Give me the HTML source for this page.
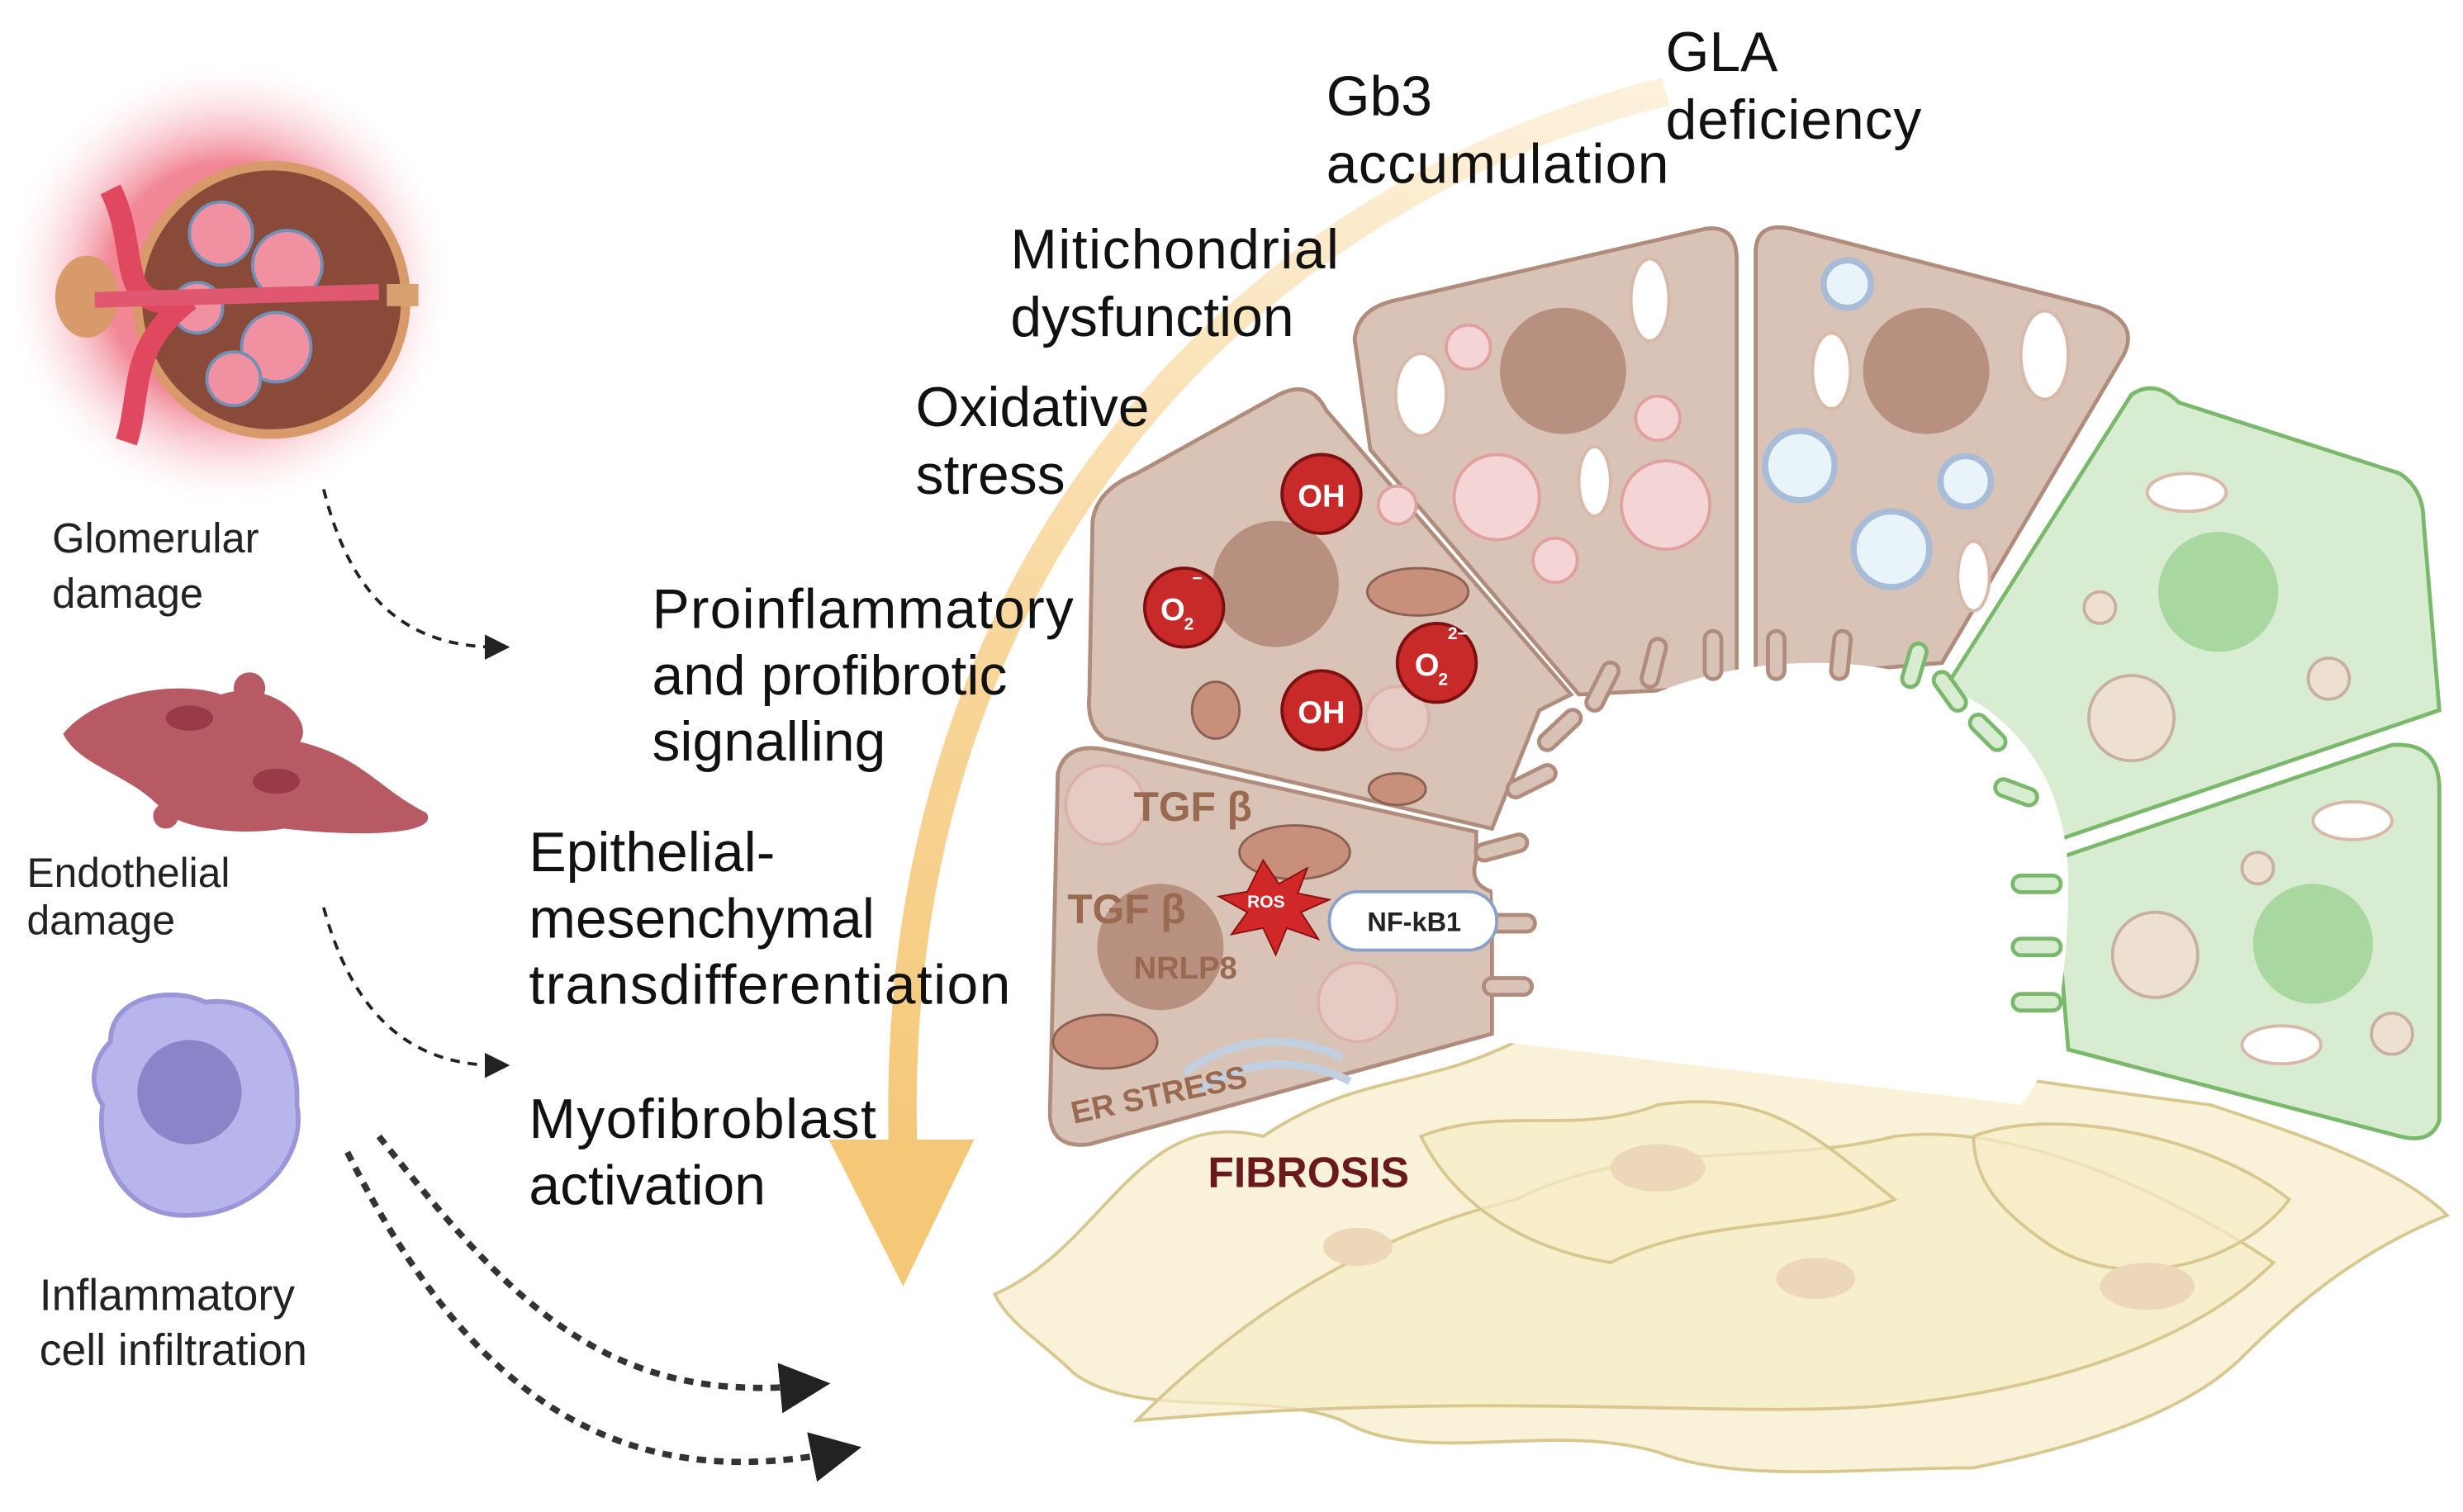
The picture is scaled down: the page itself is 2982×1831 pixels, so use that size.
<!DOCTYPE html>
<html><head><meta charset="utf-8"><style>
html,body{margin:0;padding:0;background:#fff;}
svg{display:block;}
text{font-family:"Liberation Sans",sans-serif;}
</style></head><body>
<svg width="2982" height="1831" viewBox="0 0 1560 958" preserveAspectRatio="none" xmlns="http://www.w3.org/2000/svg">
<defs>
<radialGradient id="glow" cx="50%" cy="50%" r="50%">
<stop offset="0.55" stop-color="#f07a8a" stop-opacity="0.9"/>
<stop offset="1" stop-color="#fde6ea" stop-opacity="0"/>
</radialGradient>
<linearGradient id="arr" x1="0" y1="0" x2="0" y2="1">
<stop offset="0" stop-color="#fdf1dc"/>
<stop offset="0.5" stop-color="#f8d79c"/>
<stop offset="1" stop-color="#f5c878"/>
</linearGradient>
<marker id="ah" markerWidth="8" markerHeight="8" refX="4" refY="4" orient="auto"><path d="M0,0 L8,4 L0,8 z" fill="#222"/></marker>
</defs>

<!-- glomerulus -->
<circle cx="145" cy="180" r="140" fill="url(#glow)"/>
<circle cx="172" cy="190" r="85" fill="#8a4a3a" stroke="#d89a6a" stroke-width="6"/>
<rect x="245" y="180" width="20" height="14" fill="#d8a070"/>
<ellipse cx="55" cy="188" rx="20" ry="26" fill="#d89a6a"/>
<g fill="#f090a0" stroke="#7090b8" stroke-width="2">
<circle cx="140" cy="148" r="20"/><circle cx="182" cy="168" r="22"/><circle cx="175" cy="220" r="22"/><circle cx="148" cy="240" r="17"/><circle cx="125" cy="195" r="16"/>
</g>
<path d="M70,120 C90,160 70,200 120,190 C80,220 90,250 80,280" stroke="#e04860" stroke-width="14" fill="none"/>
<path d="M60,190 L240,185" stroke="#e05870" stroke-width="10" fill="none"/>

<text x="33" y="350" font-size="26.5" fill="#222">Glomerular</text>
<text x="33" y="385" font-size="26.5" fill="#222">damage</text>

<!-- endothelial -->
<path d="M40,465 C60,440 110,430 140,440 C170,430 200,455 190,470 C230,480 240,500 270,515 C280,530 220,530 180,525 C150,530 110,525 100,510 C80,490 50,485 40,465z" fill="#b85a64"/>
<circle cx="158" cy="436" r="10" fill="#b85a64"/><circle cx="105" cy="517" r="8" fill="#b85a64"/>
<ellipse cx="120" cy="455" rx="15" ry="8" fill="#9a3a48"/><ellipse cx="175" cy="495" rx="15" ry="8" fill="#9a3a48"/>
<text x="17" y="562" font-size="26" fill="#222">Endothelial</text>
<text x="17" y="592" font-size="26" fill="#222">damage</text>

<!-- inflammatory cell -->
<path d="M70,660 C70,630 110,625 130,635 C170,630 190,665 188,700 C195,735 160,770 120,770 C80,772 60,735 65,700 C55,685 60,670 70,660z" fill="#b8b4ec" stroke="#9a96d8" stroke-width="3"/>
<circle cx="120" cy="692" r="33" fill="#8a84c8"/>
<text x="25" y="830" font-size="28" fill="#222">Inflammatory</text>
<text x="25" y="865" font-size="28" fill="#222">cell infiltration</text>

<!-- dashed arrows -->
<g fill="none" stroke="#222" stroke-width="2" stroke-dasharray="6,5">
<path d="M205,310 C220,370 250,410 315,410" marker-end="url(#ah)"/>
<path d="M205,575 C220,630 250,675 315,675" marker-end="url(#ah)"/>
<path d="M240,720 C320,820 380,890 510,878" stroke-width="4" stroke="#333" marker-end="url(#ah)"/>
<path d="M220,730 C290,870 380,950 530,920" stroke-width="4" stroke="#333" marker-end="url(#ah)"/>
</g>

<!-- big arrow -->
<path d="M1055,58 C800,120 560,350 572,730" stroke="url(#arr)" stroke-width="18" fill="none"/>
<path d="M525,722 L617,722 L572,815 z" fill="#f5c878"/>

<!-- fibroblasts -->
<g fill="#f6ecc8" fill-opacity="0.7" stroke="#d8c890" stroke-width="2">
<path d="M630,820 C700,790 720,700 800,720 C860,680 900,690 960,660 C1020,650 1100,680 1180,670 C1260,680 1320,690 1400,700 C1460,720 1520,740 1550,770 C1500,790 1460,820 1420,860 C1380,900 1300,920 1250,930 C1180,930 1100,940 1050,920 C980,900 900,930 850,900 C800,880 720,900 680,870 C660,850 640,840 630,820z"/>
<path d="M720,900 C800,820 880,780 960,760 C1040,720 1120,740 1200,720 C1280,710 1380,760 1440,800 C1390,850 1300,880 1200,890 C1100,900 950,880 720,900z"/>
<path d="M900,720 C950,700 1000,720 1050,700 C1120,690 1150,720 1200,760 C1150,780 1080,770 1020,800 C960,790 920,760 900,720z"/>
<path d="M1250,720 C1300,700 1400,720 1450,760 C1420,800 1350,820 1300,790 C1270,770 1250,750 1250,720z"/>
</g>
<g fill="#ecd8b8"><ellipse cx="1050" cy="740" rx="30" ry="15"/><ellipse cx="1360" cy="815" rx="30" ry="15"/><ellipse cx="1150" cy="810" rx="25" ry="13"/><ellipse cx="860" cy="790" rx="22" ry="12"/></g>

<!-- brown cells -->
<g fill="#d9c3b7" stroke="#b08c7c" stroke-width="2.5">
<path d="M670,490 Q675,470 700,475 L935,527 L935,545 Q930,560 945,565 L945,655 L690,725 Q665,728 665,705 z"/>
<path d="M692,330 Q695,310 720,300 L810,250 Q830,240 840,260 L995,440 L975,450 L945,525 L700,468 Q688,460 690,440 z"/>
<path d="M858,215 Q860,195 885,190 L1080,145 Q1100,142 1100,165 L1100,435 L1000,440 L868,285 z"/>
<path d="M1112,160 Q1112,140 1135,145 L1330,195 Q1355,205 1345,225 L1230,420 L1112,430 z"/>
</g>
<!-- green cells -->
<g fill="#d7ecd0" stroke="#7ab86c" stroke-width="2.5">
<path d="M1350,250 Q1365,240 1380,255 L1520,300 Q1535,310 1535,330 L1545,450 L1295,535 L1270,525 L1220,455 z"/>
<path d="M1300,545 L1515,472 Q1545,470 1545,500 L1545,710 Q1540,725 1520,720 L1310,665 z"/>
</g>
<!-- lumen -->
<path d="M945,560 C960,470 1050,420 1150,420 C1260,420 1310,480 1310,560 C1310,620 1300,680 1280,700 L950,660 z" fill="#fff"/>
<!-- microvilli -->
<g fill="none" stroke="#b08c7c" stroke-width="13" stroke-linecap="round">
<path d="M940,540 l22,-6 M945,585 l22,0 M945,625 l20,0 M960,500 l20,-10 M980,470 l16,-15 M1010,445 l10,-20 M1045,430 l5,-20 M1085,425 l0,-20 M1125,425 l0,-20 M1165,425 l2,-20"/>
</g>
<g fill="none" stroke="#d9c3b7" stroke-width="8" stroke-linecap="round">
<path d="M940,540 l22,-6 M945,585 l22,0 M945,625 l20,0 M960,500 l20,-10 M980,470 l16,-15 M1010,445 l10,-20 M1045,430 l5,-20 M1085,425 l0,-20 M1125,425 l0,-20 M1165,425 l2,-20"/>
</g>
<g fill="none" stroke="#7ab86c" stroke-width="13" stroke-linecap="round">
<path d="M1210,430 l5,-17 M1240,445 l-10,-14 M1265,470 l-12,-12 M1285,505 l-16,-6 M1300,560 l-20,0 M1300,600 l-20,0 M1300,635 l-20,0"/>
</g>
<g fill="none" stroke="#d7ecd0" stroke-width="8" stroke-linecap="round">
<path d="M1210,430 l5,-17 M1240,445 l-10,-14 M1265,470 l-12,-12 M1285,505 l-16,-6 M1300,560 l-20,0 M1300,600 l-20,0 M1300,635 l-20,0"/>
</g>

<!-- nuclei -->
<g fill="#b89080"><circle cx="808" cy="370" r="40"/><circle cx="990" cy="235" r="40"/><circle cx="1220" cy="235" r="40"/><circle cx="735" cy="600" r="40"/></g>
<g fill="#a8d8a0"><circle cx="1405" cy="375" r="38"/><circle cx="1465" cy="598" r="38"/></g>

<!-- organelles -->
<g fill="#f4d4d4" stroke="#e0a0a0" stroke-width="2">
<circle cx="948" cy="315" r="27"/><circle cx="1055" cy="320" r="28"/><circle cx="930" cy="220" r="14"/><circle cx="1050" cy="265" r="14"/><circle cx="985" cy="355" r="14"/><circle cx="885" cy="320" r="12"/>
<circle cx="700" cy="510" r="25" opacity="0.5"/><circle cx="860" cy="635" r="25" opacity="0.5"/><circle cx="885" cy="455" r="20" opacity="0.5"/>
</g>
<g fill="#e8f4fa" stroke="#a8bcd8" stroke-width="4">
<circle cx="1170" cy="180" r="15"/><circle cx="1140" cy="295" r="22"/><circle cx="1245" cy="305" r="16"/><circle cx="1198" cy="348" r="24"/>
</g>
<g fill="#fff" stroke="#d8b8a8" stroke-width="2">
<ellipse cx="900" cy="250" rx="16" ry="26"/><ellipse cx="1045" cy="190" rx="12" ry="26"/><ellipse cx="1010" cy="305" rx="10" ry="22"/><ellipse cx="1160" cy="235" rx="12" ry="24"/><ellipse cx="1295" cy="225" rx="15" ry="28"/><ellipse cx="1250" cy="365" rx="10" ry="22"/>
<ellipse cx="1385" cy="312" rx="25" ry="12"/><ellipse cx="1490" cy="520" rx="25" ry="12"/><ellipse cx="1445" cy="662" rx="25" ry="12"/>
</g>
<g fill="#eee0d0" stroke="#c8b0a0" stroke-width="2">
<circle cx="1350" cy="455" r="27"/><circle cx="1365" cy="605" r="27"/><circle cx="1330" cy="385" r="10"/><circle cx="1475" cy="430" r="13"/><circle cx="1430" cy="550" r="10"/><circle cx="1515" cy="655" r="13"/>
</g>
<g fill="#c8907a" stroke="#8a6050" stroke-width="1.5">
<ellipse cx="898" cy="375" rx="32" ry="15"/><ellipse cx="770" cy="450" rx="15" ry="18"/><ellipse cx="885" cy="500" rx="18" ry="10"/><ellipse cx="820" cy="540" rx="35" ry="17"/><ellipse cx="700" cy="660" rx="33" ry="17"/>
</g>
<path d="M750,680 C790,650 830,660 850,670 M760,690 C800,665 835,675 855,685" stroke="#c0d0e0" stroke-width="5" fill="none"/>

<!-- radicals -->
<g fill="#c82a2a" stroke="#7a1010" stroke-width="2">
<circle cx="837" cy="313" r="25"/><circle cx="750" cy="385" r="25"/><circle cx="837" cy="450" r="25"/><circle cx="910" cy="420" r="25"/>
</g>
<g fill="#fff" font-weight="bold" font-size="20">
<text x="822" y="321">OH</text><text x="822" y="458">OH</text>
<text x="735" y="393">O</text><text x="896" y="428">O</text>
</g>
<g fill="#fff" font-size="11" font-weight="bold"><text x="750" y="399">2</text><text x="911" y="434">2</text><text x="917" y="405">2−</text><text x="755" y="370">−</text></g>

<!-- labels inside -->
<g fill="#9a6a50" font-weight="bold">
<text x="718" y="520" font-size="26">TGF β</text>
<text x="676" y="585" font-size="26">TGF β</text>
<text x="718" y="620" font-size="20">NRLP8</text>
<text x="680" y="712" font-size="20" transform="rotate(-12 680 712)">ER STRESS</text>
</g>
<path d="M800,545 L810,560 L828,550 L822,566 L842,570 L824,578 L835,595 L815,588 L808,605 L800,588 L780,592 L790,578 L772,568 L790,565 z" fill="#d02828" stroke="#8a1010"/>
<text x="790" y="575" font-size="11" fill="#fff" font-weight="bold">ROS</text>
<rect x="842" y="565" width="106" height="37" rx="18" fill="#fff" stroke="#8aa0c8" stroke-width="2"/>
<text x="866" y="590" font-size="17" font-weight="bold" fill="#222">NF-kB1</text>
<text x="765" y="752" font-size="27" font-weight="bold" fill="#6a1a1a">FIBROSIS</text>

<!-- text labels -->
<g font-size="35.5" fill="#111">
<text x="1055" y="45">GLA</text><text x="1055" y="88" textLength="162">deficiency</text>
<text x="840" y="73">Gb3</text><text x="840" y="116" textLength="217">accumulation</text>
<text x="640" y="170" textLength="208">Mitichondrial</text><text x="640" y="213">dysfunction</text>
<text x="580" y="270">Oxidative</text><text x="580" y="313">stress</text>
<text x="413" y="398" textLength="267">Proinflammatory</text><text x="413" y="440">and profibrotic</text><text x="413" y="482">signalling</text>
<text x="335" y="552">Epithelial-</text><text x="335" y="594">mesenchymal</text><text x="335" y="636" textLength="305">transdifferentiation</text>
<text x="335" y="721" textLength="220">Myofibroblast</text><text x="335" y="763">activation</text>
</g>
</svg>
</body></html>
